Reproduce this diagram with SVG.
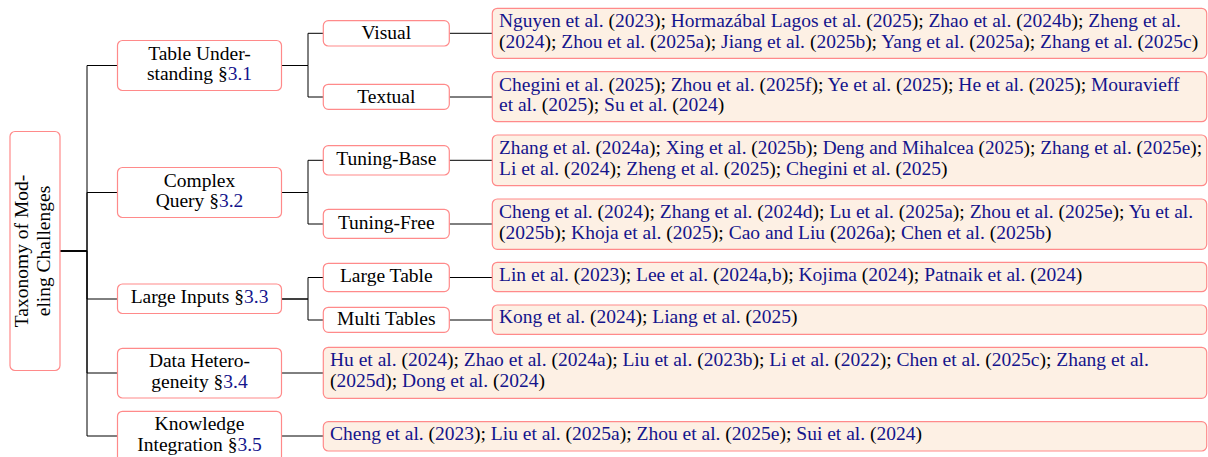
<svg xmlns="http://www.w3.org/2000/svg" width="1208" height="457" viewBox="0 0 1208 457">
<style>
text{font-family:"Liberation Serif","Times New Roman",serif;font-size:19.5px;fill:#000}
.n{fill:#14148c}
.c{text-anchor:middle}
.box{fill:#fff;stroke:#ff8a8a;stroke-width:1.2}
.leaf{fill:#fdf0e4;stroke:#ff8a8a;stroke-width:1.2}
.edge{fill:none;stroke:#000;stroke-width:1}
</style>
<rect width="1208" height="457" fill="#fff"/>
<g id="connectors">
<path class="edge" d="M60,251H87V65.5H117.5"/>
<path class="edge" d="M60,251H87V192.5H117.5"/>
<path class="edge" d="M60,251H87V299H117.5"/>
<path class="edge" d="M60,251H87V373H117.5"/>
<path class="edge" d="M60,251H87V436H117.5"/>
<path class="edge" d="M281.5,65.5H308V33.3H323.3"/>
<path class="edge" d="M281.5,65.5H308V97H323.3"/>
<path class="edge" d="M281.5,192.5H308V160.3H323.3"/>
<path class="edge" d="M281.5,192.5H308V224H323.3"/>
<path class="edge" d="M281.5,299H308V277.5H323.3"/>
<path class="edge" d="M281.5,299H308V320H323.3"/>
<path class="edge" d="M449.3,33.3H492.3"/>
<path class="edge" d="M449.3,97H492.3"/>
<path class="edge" d="M449.3,160.3H492.3"/>
<path class="edge" d="M449.3,224H492.3"/>
<path class="edge" d="M449.3,277.5H492.3"/>
<path class="edge" d="M449.3,320H492.3"/>
<path class="edge" d="M281.5,373H323.3"/>
<path class="edge" d="M281.5,436H323.3"/>
</g>
<g id="root">
<rect class="box" x="10" y="131.5" width="50" height="239" rx="5"/>
<text class="c" transform="translate(28,251) rotate(-90)">Taxonomy of Mod-</text>
<text class="c" transform="translate(50,251) rotate(-90)">eling Challenges</text>
</g>
<g id="table-understanding">
<rect class="box" x="117.5" y="40.5" width="164" height="50" rx="5"/>
<text class="c" x="199.5" y="59.5">Table Under-</text>
<text class="c" x="199.5" y="80">standing §<tspan class="n">3.1</tspan></text>
</g>
<g id="complex-query">
<rect class="box" x="117.5" y="167.5" width="164" height="50" rx="5"/>
<text class="c" x="199.5" y="186.5">Complex</text>
<text class="c" x="199.5" y="207">Query §<tspan class="n">3.2</tspan></text>
</g>
<g id="large-inputs">
<rect class="box" x="117.5" y="284" width="164" height="29.5" rx="5"/>
<text class="c" x="199.5" y="303">Large Inputs §<tspan class="n">3.3</tspan></text>
</g>
<g id="data-heterogeneity">
<rect class="box" x="117.5" y="348.3" width="164" height="49.7" rx="5"/>
<text class="c" x="199.5" y="367.3">Data Hetero-</text>
<text class="c" x="199.5" y="388">geneity §<tspan class="n">3.4</tspan></text>
</g>
<g id="knowledge-integration">
<rect class="box" x="117.5" y="411.3" width="164" height="50" rx="5"/>
<text class="c" x="199.5" y="430">Knowledge</text>
<text class="c" x="199.5" y="451">Integration §<tspan class="n">3.5</tspan></text>
</g>
<g id="visual">
<rect class="box" x="323.3" y="20.7" width="126" height="25.3" rx="5"/>
<text class="c" x="386.3" y="39.3">Visual</text>
</g>
<g id="textual">
<rect class="box" x="323.3" y="84.3" width="126" height="25" rx="5"/>
<text class="c" x="386.3" y="103">Textual</text>
</g>
<g id="tuning-base">
<rect class="box" x="323.3" y="145.7" width="126" height="29.3" rx="5"/>
<text class="c" x="386.3" y="165">Tuning-Base</text>
</g>
<g id="tuning-free">
<rect class="box" x="323.3" y="209.3" width="126" height="29" rx="5"/>
<text class="c" x="386.3" y="229">Tuning-Free</text>
</g>
<g id="large-table">
<rect class="box" x="323.3" y="263.3" width="126" height="28.3" rx="5"/>
<text class="c" x="386.3" y="281.7">Large Table</text>
</g>
<g id="multi-tables">
<rect class="box" x="323.3" y="307.3" width="126" height="25" rx="5"/>
<text class="c" x="386.3" y="325">Multi Tables</text>
</g>
<g id="visual-refs">
<rect class="leaf" x="492.3" y="8.3" width="714.4" height="50" rx="5"/>
<text x="499" y="27"><tspan class="n">Nguyen et al.</tspan> (<tspan class="n">2023</tspan>); <tspan class="n">Hormazábal Lagos et al.</tspan> (<tspan class="n">2025</tspan>); <tspan class="n">Zhao et al.</tspan> (<tspan class="n">2024b</tspan>); <tspan class="n">Zheng et al.</tspan></text>
<text x="499" y="47.5">(<tspan class="n">2024</tspan>); <tspan class="n">Zhou et al.</tspan> (<tspan class="n">2025a</tspan>); <tspan class="n">Jiang et al.</tspan> (<tspan class="n">2025b</tspan>); <tspan class="n">Yang et al.</tspan> (<tspan class="n">2025a</tspan>); <tspan class="n">Zhang et al.</tspan> (<tspan class="n">2025c</tspan>)</text>
</g>
<g id="textual-refs">
<rect class="leaf" x="492.3" y="71.7" width="714.4" height="50" rx="5"/>
<text x="499" y="90.6"><tspan class="n">Chegini et al.</tspan> (<tspan class="n">2025</tspan>); <tspan class="n">Zhou et al.</tspan> (<tspan class="n">2025f</tspan>); <tspan class="n">Ye et al.</tspan> (<tspan class="n">2025</tspan>); <tspan class="n">He et al.</tspan> (<tspan class="n">2025</tspan>); <tspan class="n">Mouravieff</tspan></text>
<text x="499" y="111.2"><tspan class="n">et al.</tspan> (<tspan class="n">2025</tspan>); <tspan class="n">Su et al.</tspan> (<tspan class="n">2024</tspan>)</text>
</g>
<g id="tuning-base-refs">
<rect class="leaf" x="492.3" y="135" width="714.4" height="50.7" rx="5"/>
<text x="499" y="154.3" textLength="703" lengthAdjust="spacingAndGlyphs"><tspan class="n">Zhang et al.</tspan> (<tspan class="n">2024a</tspan>); <tspan class="n">Xing et al.</tspan> (<tspan class="n">2025b</tspan>); <tspan class="n">Deng and Mihalcea</tspan> (<tspan class="n">2025</tspan>); <tspan class="n">Zhang et al.</tspan> (<tspan class="n">2025e</tspan>);</text>
<text x="499" y="174.8"><tspan class="n">Li et al.</tspan> (<tspan class="n">2024</tspan>); <tspan class="n">Zheng et al.</tspan> (<tspan class="n">2025</tspan>); <tspan class="n">Chegini et al.</tspan> (<tspan class="n">2025</tspan>)</text>
</g>
<g id="tuning-free-refs">
<rect class="leaf" x="492.3" y="199" width="714.4" height="50.3" rx="5"/>
<text x="499" y="218.3"><tspan class="n">Cheng et al.</tspan> (<tspan class="n">2024</tspan>); <tspan class="n">Zhang et al.</tspan> (<tspan class="n">2024d</tspan>); <tspan class="n">Lu et al.</tspan> (<tspan class="n">2025a</tspan>); <tspan class="n">Zhou et al.</tspan> (<tspan class="n">2025e</tspan>); <tspan class="n">Yu et al.</tspan></text>
<text x="499" y="238.6">(<tspan class="n">2025b</tspan>); <tspan class="n">Khoja et al.</tspan> (<tspan class="n">2025</tspan>); <tspan class="n">Cao and Liu</tspan> (<tspan class="n">2026a</tspan>); <tspan class="n">Chen et al.</tspan> (<tspan class="n">2025b</tspan>)</text>
</g>
<g id="large-table-refs">
<rect class="leaf" x="492.3" y="262.3" width="714.4" height="29.4" rx="5"/>
<text x="499" y="280.5"><tspan class="n">Lin et al.</tspan> (<tspan class="n">2023</tspan>); <tspan class="n">Lee et al.</tspan> (<tspan class="n">2024a</tspan>,<tspan class="n">b</tspan>); <tspan class="n">Kojima</tspan> (<tspan class="n">2024</tspan>); <tspan class="n">Patnaik et al.</tspan> (<tspan class="n">2024</tspan>)</text>
</g>
<g id="multi-tables-refs">
<rect class="leaf" x="492.3" y="305" width="714.4" height="29.3" rx="5"/>
<text x="499" y="323.3"><tspan class="n">Kong et al.</tspan> (<tspan class="n">2024</tspan>); <tspan class="n">Liang et al.</tspan> (<tspan class="n">2025</tspan>)</text>
</g>
<g id="data-heterogeneity-refs">
<rect class="leaf" x="323.3" y="347.3" width="883.4" height="51" rx="5"/>
<text x="330" y="366"><tspan class="n">Hu et al.</tspan> (<tspan class="n">2024</tspan>); <tspan class="n">Zhao et al.</tspan> (<tspan class="n">2024a</tspan>); <tspan class="n">Liu et al.</tspan> (<tspan class="n">2023b</tspan>); <tspan class="n">Li et al.</tspan> (<tspan class="n">2022</tspan>); <tspan class="n">Chen et al.</tspan> (<tspan class="n">2025c</tspan>); <tspan class="n">Zhang et al.</tspan></text>
<text x="330" y="386.7">(<tspan class="n">2025d</tspan>); <tspan class="n">Dong et al.</tspan> (<tspan class="n">2024</tspan>)</text>
</g>
<g id="knowledge-integration-refs">
<rect class="leaf" x="323.3" y="421.7" width="883.4" height="29.3" rx="5"/>
<text x="330" y="440"><tspan class="n">Cheng et al.</tspan> (<tspan class="n">2023</tspan>); <tspan class="n">Liu et al.</tspan> (<tspan class="n">2025a</tspan>); <tspan class="n">Zhou et al.</tspan> (<tspan class="n">2025e</tspan>); <tspan class="n">Sui et al.</tspan> (<tspan class="n">2024</tspan>)</text>
</g>
</svg>
